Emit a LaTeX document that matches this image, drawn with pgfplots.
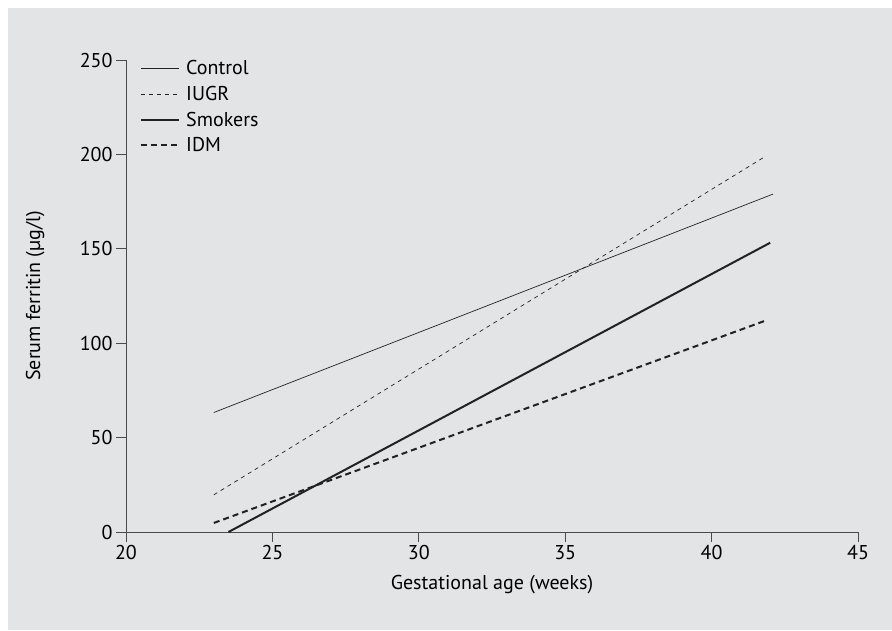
\documentclass[border=0pt]{standalone}
\usepackage{pgfplots}
\pgfplotsset{compat=1.18}
\usepackage{fontspec}
\setmainfont{PT Sans}
\definecolor{panel}{HTML}{E3E4E5}
\definecolor{ink}{HTML}{222222}
\definecolor{axc}{HTML}{4A4A4A}
\begin{document}
\begin{tikzpicture}[x=1pt,y=1pt]
\fill[white] (0,0) rectangle (892,630);
\fill[panel] (8,0) rectangle (892,622);
\begin{axis}[
  at={(126pt,98pt)}, anchor=south west,
  scale only axis, width=732pt, height=472pt,
  xmin=20, xmax=45, ymin=0, ymax=250,
  axis lines=left,
  axis line style={axc, line width=0.8pt, -},
  xtick={20,25,...,45}, ytick={0,50,...,250},
  tick align=outside, major tick length=10pt,
  tick style={axc, line width=0.8pt},
  /pgf/number format/assume math mode=true,
  tick label style={font=\fontsize{20}{22}\selectfont, text=black},
  xlabel={Gestational age (weeks)},
  ylabel={Serum ferritin (µg/l)},
  xlabel style={at={(axis description cs:0.5,-0.112)}, anchor=center, font=\fontsize{20}{22}\selectfont, text=black},
  ylabel style={at={(axis description cs:-0.124,0.5)}, anchor=center, font=\fontsize{20}{22}\selectfont, text=black},
  clip=false,
  legend style={at={(0.015,1.008)}, anchor=north west, draw=none, fill=none,
    font=\fontsize{20}{22}\selectfont, row sep=6pt, cells={anchor=west}},
  legend image code/.code={\draw[#1] (0pt,0pt) -- (38pt,0pt); \path (42pt,0pt);},
]
\addplot[ink, line width=0.7pt] coordinates {(23,63.3) (42.1,179)};
\addlegendentry{Control}
\addplot[ink, line width=0.7pt, dash pattern=on 4pt off 4pt] coordinates {(23,19.7) (41.8,198.6)};
\addlegendentry{IUGR}
\addplot[ink, line width=2pt] coordinates {(23.5,0) (42,153.2)};
\addlegendentry{Smokers}
\addplot[ink, line width=2pt, dash pattern=on 6pt off 4pt] coordinates {(23,4.8) (41.9,112.3)};
\addlegendentry{IDM}
\end{axis}
\end{tikzpicture}
\end{document}
